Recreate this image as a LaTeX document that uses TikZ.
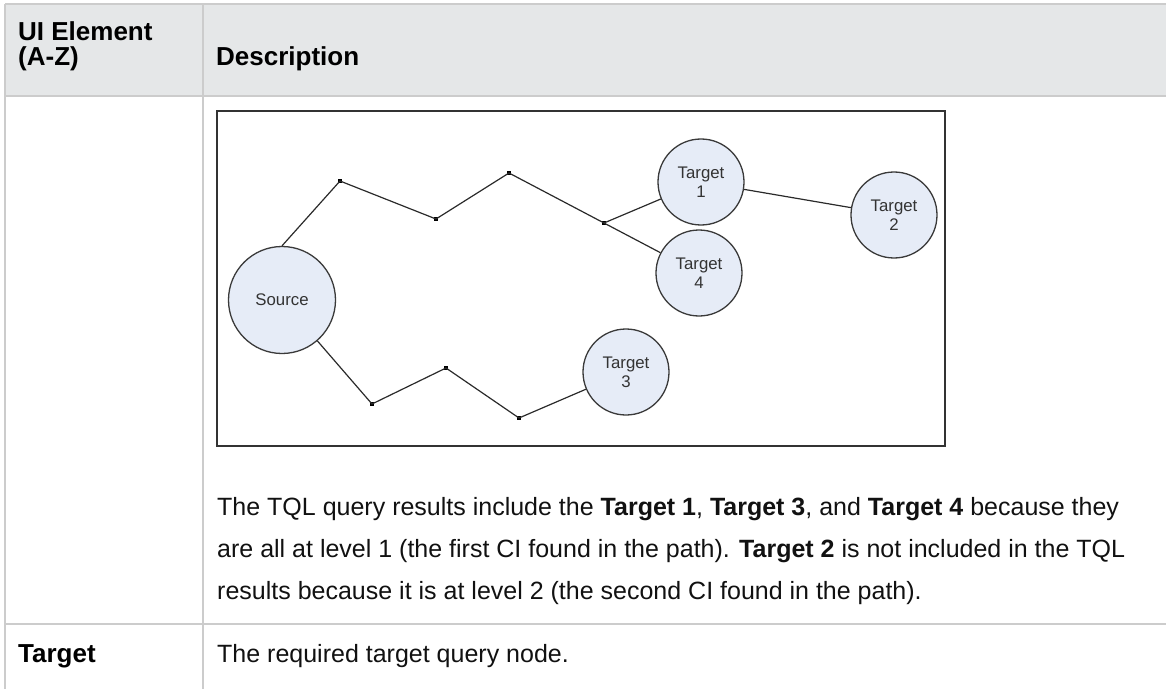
\documentclass[tikz,border=0pt]{standalone}
\usepackage{fontspec}
\setmainfont{Liberation Sans}
\definecolor{tablegray}{HTML}{CCCCCC}
\definecolor{headerfill}{HTML}{E5E7E8}
\definecolor{nodefill}{HTML}{E6ECF7}
\definecolor{nodeborder}{HTML}{3A3A3A}
\definecolor{nodetext}{HTML}{333333}
\definecolor{linkgray}{HTML}{2A2A2A}
\definecolor{framegray}{HTML}{333333}
\definecolor{bodytext}{HTML}{111111}
\begin{document}
\begin{tikzpicture}[x=1bp,y=-1bp,
  grid/.style={draw=tablegray, line width=2bp},
  cnode/.style={circle, draw=nodeborder, fill=nodefill, line width=1.3bp, minimum size=86bp, inner sep=0pt, align=center, font=\fontsize{16.8bp}{19bp}\selectfont, text=nodetext},
  srcnode/.style={cnode, minimum size=107bp},
  bendpt/.style={rectangle, fill=black, minimum size=4.5bp, inner sep=0pt},
  link/.style={draw=linkgray, line width=1.2bp},
  body/.style={anchor=base west, inner sep=0pt, font=\fontsize{25bp}{30bp}\selectfont, text=bodytext},
  head/.style={anchor=base west, inner sep=0pt, font=\fontsize{26bp}{30bp}\selectfont\bfseries, text=black},
]
\useasboundingbox (0,0) rectangle (1166,689);
% table
\fill[headerfill] (5,4) rectangle (1166,96);
\draw[grid] (5,4) -- (1166,4);
\draw[grid] (5,96) -- (1166,96);
\draw[grid] (5,624) -- (1166,624);
\draw[grid] (5,4) -- (5,689);
\draw[grid] (203,4) -- (203,689);
% header texts
\node[head] (h1) at (18,41) {UI Element};
\node[head] (h2) at (18,66) {(A-Z)};
\node[head] (h3) at (216,66) {Description};
% diagram frame
\draw[line width=2.4bp, draw=framegray] (217,111) rectangle (945,446);
% nodes
\node[srcnode] (S) at (282,300) {Source};
\node[cnode] (T1) at (701,182) {Target\\1};
\node[cnode] (T2) at (894,215) {Target\\2};
\node[cnode] (T4) at (699,273) {Target\\4};
\node[cnode] (T3) at (626,372) {Target\\3};
% bend points
\node[bendpt] (p1) at (340,181) {};
\node[bendpt] (p2) at (436,219) {};
\node[bendpt] (p3) at (509,173) {};
\node[bendpt] (p4) at (604,223) {};
\node[bendpt] (q1) at (372,404) {};
\node[bendpt] (q2) at (446,368) {};
\node[bendpt] (q3) at (519,418) {};
% links
\draw[link] (S.north) -- (p1.center) -- (p2.center) -- (p3.center) -- (p4.center);
\draw[link] (p4.center) -- (T1);
\draw[link] (p4.center) -- (T4);
\draw[link] (T1) -- (T2);
\draw[link] (S) -- (q1.center) -- (q2.center) -- (q3.center) -- (T3);
% body text
\node[body] (b1) at (217,515) {The TQL query results include the \textbf{Target 1}, \textbf{Target 3}, and \textbf{Target 4} because they};
\node[body] (b2) at (217,557) {are all at level 1 (the first CI found in the path). \textbf{Target 2} is not included in the TQL};
\node[body] (b3) at (217,599) {results because it is at level 2 (the second CI found in the path).};
\node[head] (r1) at (18,662) {Target};
\node[body] (r2) at (217,662) {The required target query node.};
\end{tikzpicture}
\end{document}
